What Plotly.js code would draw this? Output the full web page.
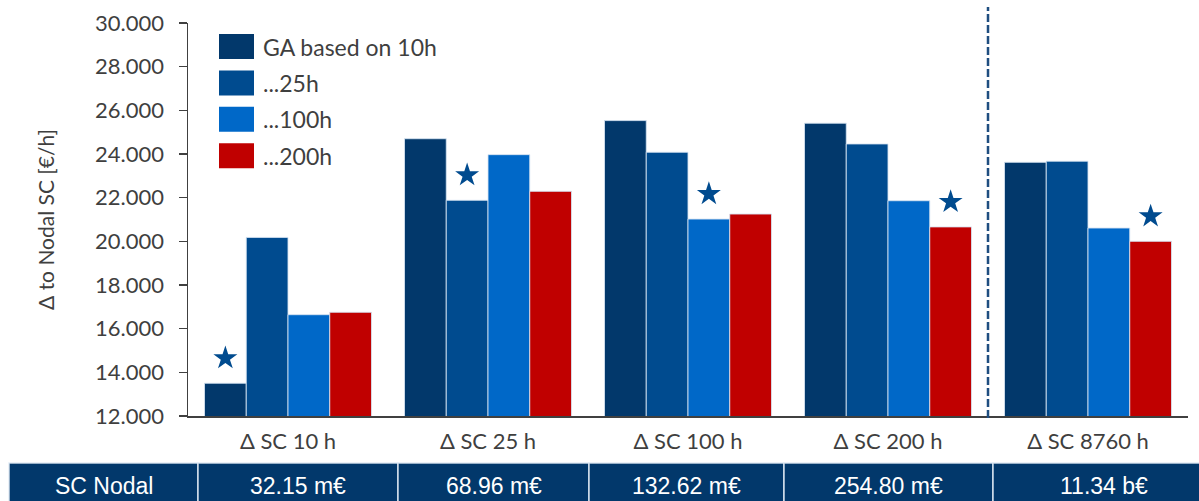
<!DOCTYPE html>
<html>
<head>
<meta charset="utf-8">
<script src="https://cdn.plot.ly/plotly-3.0.1.min.js"></script>
<style>
  html, body { margin: 0; padding: 0; background: #fff; }
  #chart { width: 1199px; height: 501px; }
</style>
</head>
<body>
<div id="chart"></div>
<script>
// Scenario groups along the x axis
const categories = ['Δ SC 10 h', 'Δ SC 25 h', 'Δ SC 100 h', 'Δ SC 200 h', 'Δ SC 8760 h'];

// Series names and their values (€/h)
const seriesNames = ['GA based on 10h', '...25h', '...100h', '...200h'];
const gaBased10h  = [13500, 24700, 25530, 25410, 23620];
const gaBased25h  = [20180, 21880, 24080, 24460, 23670];
const gaBased100h = [16640, 23970, 21020, 21860, 20610];
const gaBased200h = [16750, 22290, 21250, 20660, 20000];

// Row under the chart: nodal system cost per scenario
const tableHeader = 'SC Nodal';
const tableValues = ['32.15 m€', '68.96 m€', '132.62 m€', '254.80 m€', '11.34 b€'];

// Y axis ticks
const yTickValues = [12000, 14000, 16000, 18000, 20000, 22000, 24000, 26000, 28000, 30000];

// ---- styling ----
const seriesColors = ['#02386B', '#004B8F', '#0068C8', '#C00000'];
const starColor = '#004B8F';
const tableFill = '#02386B';
const textColor = '#3f3f3f';
const chartFont = 'Lato, "Open Sans", sans-serif';
const tableFont = '"Liberation Sans", Arial, sans-serif';

const W = 1199, H = 501;
const M = { l: 188, r: 11, t: 23, b: 85 };
const plotW = W - M.l - M.r, plotH = H - M.t - M.b;
const px2paperX = px => (px - M.l) / plotW;
const px2paperY = py => (H - M.b - py) / plotH;

const barGap = 0.165;
const allSeries = [gaBased10h, gaBased25h, gaBased100h, gaBased200h];

const traces = allSeries.map((vals, i) => ({
  type: 'bar',
  x: categories,
  y: vals,
  name: seriesNames[i],
  marker: { color: seriesColors[i], line: { color: 'rgba(215,228,242,0.85)', width: 1 } },
  hoverinfo: 'x+y+name',
  showlegend: false
}));

// Star above the lowest bar of each group
const slot = (1 - barGap) / allSeries.length;
const starX = [], starY = [];
categories.forEach((c, g) => {
  const vals = allSeries.map(s => s[g]);
  const minV = Math.min(...vals);
  const k = vals.indexOf(minV);
  starX.push(g + (k - (allSeries.length - 1) / 2) * slot);
  starY.push(minV + 1150);
});
traces.push({
  type: 'scatter',
  mode: 'markers',
  x: starX,
  y: starY,
  xaxis: 'x2',
  marker: { symbol: 'star', size: 18, color: starColor, line: { width: 0 } },
  hoverinfo: 'skip',
  showlegend: false
});

const shapes = [];
const annotations = [];

// Separator before the 8760 h scenario
shapes.push({
  type: 'line', xref: 'x2', yref: 'paper',
  x0: 3.5, x1: 3.5, y0: px2paperY(418), y1: px2paperY(7),
  line: { color: '#1F4E80', width: 2.5, dash: '8px,3px' }
});

// Custom legend
const legendTop = 34, legendStep = 36.4;
seriesNames.forEach((name, i) => {
  const top = legendTop + i * legendStep;
  shapes.push({
    type: 'rect', xref: 'paper', yref: 'paper',
    x0: px2paperX(219), x1: px2paperX(254),
    y0: px2paperY(top + 25), y1: px2paperY(top),
    fillcolor: seriesColors[i], line: { width: 0 }
  });
  annotations.push({
    xref: 'paper', yref: 'paper',
    x: px2paperX(261), y: px2paperY(top + 12.5),
    xanchor: 'left', yanchor: 'middle',
    text: name, showarrow: false,
    font: { family: chartFont, size: 23, color: textColor }
  });
});

// Table row
const colEdges = [9, 198, 398, 589, 784, 993, 1215];
const tableTop = 463, tableBottom = 510;
const cellTexts = [tableHeader].concat(tableValues);
cellTexts.forEach((txt, i) => {
  shapes.push({
    type: 'rect', xref: 'paper', yref: 'paper',
    x0: px2paperX(colEdges[i]), x1: px2paperX(colEdges[i + 1]),
    y0: px2paperY(tableBottom), y1: px2paperY(tableTop),
    fillcolor: tableFill, line: { color: 'rgba(225,235,245,0.9)', width: 1.5 }
  });
  annotations.push({
    xref: 'paper', yref: 'paper',
    x: px2paperX((colEdges[i] + colEdges[i + 1]) / 2), y: px2paperY(486),
    xanchor: 'center', yanchor: 'middle',
    text: txt, showarrow: false,
    font: { family: tableFont, size: 23, color: '#ffffff' }
  });
});

const layout = {
  width: W, height: H,
  margin: M,
  paper_bgcolor: '#ffffff',
  plot_bgcolor: '#ffffff',
  separators: ',.',
  barmode: 'group',
  bargap: barGap,
  bargroupgap: 0,
  showlegend: false,
  font: { family: chartFont, color: textColor },
  xaxis: {
    type: 'category',
    range: [-0.5, 4.5],
    showline: true, linecolor: '#404040', linewidth: 1.5,
    ticks: '', showgrid: false, zeroline: false,
    tickfont: { family: chartFont, size: 22, color: textColor },
    ticklabelstandoff: 5
  },
  xaxis2: {
    overlaying: 'x', range: [-0.5, 4.5],
    visible: false, fixedrange: true
  },
  yaxis: {
    range: [12000, 30000],
    tickvals: yTickValues,
    tickformat: ',d',
    showline: true, linecolor: '#404040', linewidth: 1.5,
    ticks: 'outside', ticklen: 8, tickcolor: '#404040', tickwidth: 1.5,
    showgrid: false, zeroline: false,
    tickfont: { family: chartFont, size: 22, color: textColor },
    ticklabelstandoff: 10,
    title: { text: 'Δ to Nodal SC [€/h]', font: { family: chartFont, size: 21, color: textColor }, standoff: 34 }
  },
  shapes: shapes,
  annotations: annotations
};

Plotly.newPlot('chart', traces, layout, { staticPlot: true, displayModeBar: false });
</script>
</body>
</html>
